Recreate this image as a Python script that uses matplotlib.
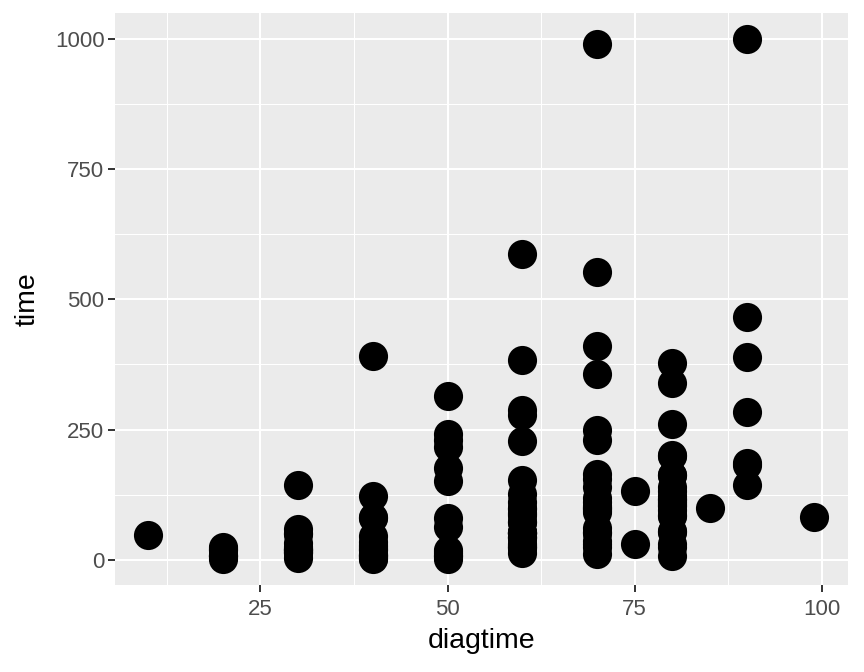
import numpy as np
import matplotlib
matplotlib.use("Agg")
import matplotlib.pyplot as plt

# survival time vs score, one point per patient
diagtime = [60, 70, 60, 60, 70, 20, 40, 80, 50, 70, 60, 40, 30, 80, 70,
            60, 60, 40, 80, 60, 40, 60, 60, 30, 80, 30, 50, 60, 80, 40,
            20, 80, 30, 75, 70, 60, 30, 60, 80, 60, 70, 50, 50, 40, 40,
            20, 70, 40, 80, 80, 50, 80, 30, 80, 50, 80, 50, 70, 60, 40,
            80, 80, 70, 90, 90, 80, 80, 70, 60, 90, 80, 80, 50, 50, 70,
            70, 20, 60, 90, 30, 20, 70, 90, 80, 50, 70, 60, 90, 50, 30,
            70, 20, 30, 60, 40, 30, 20, 60, 70, 80, 85, 70, 70, 70, 50,
            30, 40, 40, 40, 99, 80, 60, 60, 60, 60, 50, 70, 10, 40, 70,
            90, 80, 50, 40, 40, 60, 70, 30, 60, 30, 60, 80, 75, 60, 70,
            80, 30]
time = [72, 411, 228, 126, 118, 10, 82, 110, 314, 100, 42, 8, 144, 25, 11,
        30, 384, 4, 54, 13, 123, 97, 153, 59, 117, 16, 151, 22, 56, 21,
        18, 139, 20, 31, 52, 287, 18, 51, 122, 27, 54, 7, 63, 392, 10,
        8, 92, 35, 117, 132, 12, 162, 3, 95, 177, 162, 216, 553, 278, 12,
        260, 200, 156, 182, 143, 105, 103, 250, 100, 999, 112, 87, 231, 242, 991,
        111, 1, 587, 389, 33, 25, 357, 467, 201, 1, 30, 44, 283, 15, 25,
        103, 21, 13, 87, 2, 20, 7, 24, 99, 8, 99, 61, 25, 95, 80,
        51, 29, 24, 18, 83, 31, 51, 90, 52, 73, 8, 36, 48, 7, 140,
        186, 84, 19, 45, 80, 52, 164, 19, 53, 15, 43, 340, 133, 111, 231,
        378, 49]

x_ticks = [25, 50, 75, 100]
y_ticks = [0, 250, 500, 750, 1000]


def main():
    plt.rcParams['font.family'] = ['Liberation Sans', 'DejaVu Sans']
    fig = plt.figure(figsize=(8.64, 6.72), dpi=100)
    ax = fig.add_axes([0.133, 0.129, 0.848, 0.851])
    ax.set_facecolor('#EBEBEB')

    ax.scatter(diagtime, time, s=440, color='black', linewidths=0, zorder=3)

    xr = max(diagtime) - min(diagtime)
    yr = max(time) - min(time)
    ax.set_xlim(min(diagtime) - 0.05 * xr, max(diagtime) + 0.05 * xr)
    ax.set_ylim(min(time) - 0.05 * yr, max(time) + 0.05 * yr)

    ax.set_xticks(x_ticks)
    ax.set_yticks(y_ticks)
    ax.set_xticks([12.5, 37.5, 62.5, 87.5], minor=True)
    ax.set_yticks([125, 375, 625, 875], minor=True)
    ax.grid(which='major', color='white', linewidth=1.5, zorder=0)
    ax.grid(which='minor', color='white', linewidth=0.75, zorder=0)
    ax.set_axisbelow(True)
    for sp in ax.spines.values():
        sp.set_visible(False)

    ax.tick_params(which='major', length=5, width=1.4, color='#333333',
                   labelcolor='#4D4D4D', labelsize=16, pad=2.5)
    ax.tick_params(axis='x', which='major', pad=4.5)
    ax.tick_params(which='minor', length=0)
    ax.set_xlabel('diagtime', fontsize=20.5, labelpad=6)
    ax.set_ylabel('time', fontsize=20.5, labelpad=10)

    fig.savefig('out.png', dpi=100)


if __name__ == '__main__':
    main()
